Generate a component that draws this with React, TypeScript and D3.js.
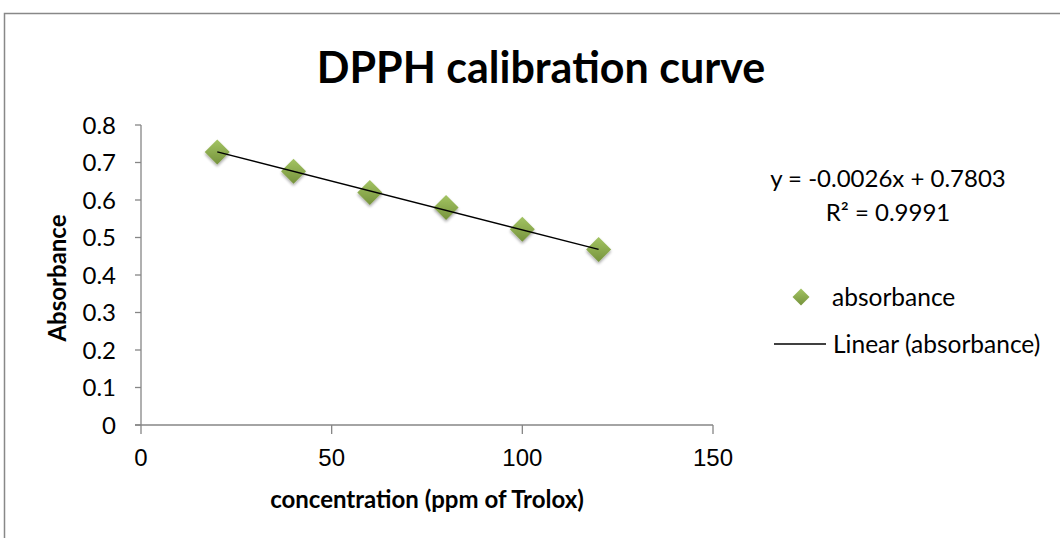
import React from "react";
import * as d3 from "d3";

const concentration = [20, 40, 60, 80, 100, 120];
const absorbance = [0.728, 0.677, 0.62, 0.58, 0.522, 0.468];
const xTicks = [0, 50, 100, 150];
const yTicks = [0, 0.1, 0.2, 0.3, 0.4, 0.5, 0.6, 0.7, 0.8];
const slope = -0.0026;
const intercept = 0.7803;

const FONT = "Lato, 'Open Sans', sans-serif";
const XFONT = "'Liberation Sans', Arial, sans-serif";

export default function App() {
  const x = d3.scaleLinear().domain([0, 150]).range([141, 713]);
  const y = d3.scaleLinear().domain([0, 0.8]).range([425, 125]);
  const axisColor = "#868686";
  const xMin = d3.min(concentration)!;
  const xMax = d3.max(concentration)!;
  const diamond = (cx: number, cy: number, r: number) =>
    `M${cx},${cy - r}L${cx + r},${cy}L${cx},${cy + r}L${cx - r},${cy}Z`;

  return (
    <svg width={1060} height={538} style={{ position: "absolute", left: 0, top: 0 }}>
      <defs>
        <linearGradient id="g" x1="0" y1="0" x2="0" y2="1">
          <stop offset="0" stopColor="#a3c463" />
          <stop offset="1" stopColor="#76933c" />
        </linearGradient>
        <filter id="sh" x="-50%" y="-50%" width="200%" height="200%">
          <feGaussianBlur in="SourceAlpha" stdDeviation="1.5" />
          <feOffset dx="0" dy="2" result="b" />
          <feComponentTransfer><feFuncA type="linear" slope="0.35" /></feComponentTransfer>
          <feMerge><feMergeNode /><feMergeNode in="SourceGraphic" /></feMerge>
        </filter>
      </defs>
      <rect x={0} y={0} width={1060} height={538} fill="#fff" />
      <rect x={4.5} y={13.5} width={1100} height={600} fill="#fff" stroke="#888" strokeWidth={1.5} />
      <text x={541} y={83} textAnchor="middle" fontFamily={FONT} fontWeight="bold" fontSize={43}>
        DPPH calibration curve
      </text>
      {/* axes */}
      <line x1={x(0)} x2={x(0)} y1={y(0.8)} y2={y(0)} stroke={axisColor} strokeWidth={1.3} />
      <line x1={x(0) - 6} x2={x(150)} y1={y(0)} y2={y(0)} stroke={axisColor} strokeWidth={1.3} />
      {yTicks.map((t) => (
        <g key={t}>
          <line x1={x(0) - 6} x2={x(0)} y1={y(t)} y2={y(t)} stroke={axisColor} strokeWidth={1.3} />
          <text x={116} y={y(t)} dy="0.36em" textAnchor="end" fontFamily={FONT} fontSize={24}>
            {t === 0 ? "0" : t.toFixed(1)}
          </text>
        </g>
      ))}
      {xTicks.map((t) => (
        <g key={t}>
          <line x1={x(t)} x2={x(t)} y1={y(0)} y2={y(0) + 9} stroke={axisColor} strokeWidth={1.3} />
          <text x={x(t)} y={457} dy="0.36em" textAnchor="middle" fontFamily={XFONT} fontSize={24}>
            {t}
          </text>
        </g>
      ))}
      <text transform={`translate(66,278) rotate(-90)`} textAnchor="middle" fontFamily={FONT} fontWeight="bold" fontSize={24}>
        Absorbance
      </text>
      <text x={427} y={508} textAnchor="middle" fontFamily={FONT} fontWeight="bold" fontSize={24}>
        concentration (ppm of Trolox)
      </text>
      {/* points */}
      {concentration.map((c, i) => (
        <path key={c} d={diamond(x(c), y(absorbance[i]), 12.5)} fill="url(#g)" filter="url(#sh)" />
      ))}
      {/* trendline */}
      <line
        x1={x(xMin)} y1={y(slope * xMin + intercept)}
        x2={x(xMax)} y2={y(slope * xMax + intercept)}
        stroke="#000" strokeWidth={1.5}
      />
      {/* equation */}
      <text x={888} y={187} textAnchor="middle" fontFamily={FONT} fontSize={24}>
        y = -0.0026x + 0.7803
      </text>
      <text x={888} y={221} textAnchor="middle" fontFamily={FONT} fontSize={24}>
        R² = 0.9991
      </text>
      {/* legend */}
      <path d={diamond(801, 297, 8.5)} fill="url(#g)" />
      <text x={832} y={297} dy="0.36em" fontFamily={FONT} fontSize={24.5}>absorbance</text>
      <line x1={774} x2={826} y1={344} y2={344} stroke="#000" strokeWidth={1.5} />
      <text x={833} y={344} dy="0.36em" fontFamily={FONT} fontSize={24.5}>Linear (absorbance)</text>
    </svg>
  );
}
